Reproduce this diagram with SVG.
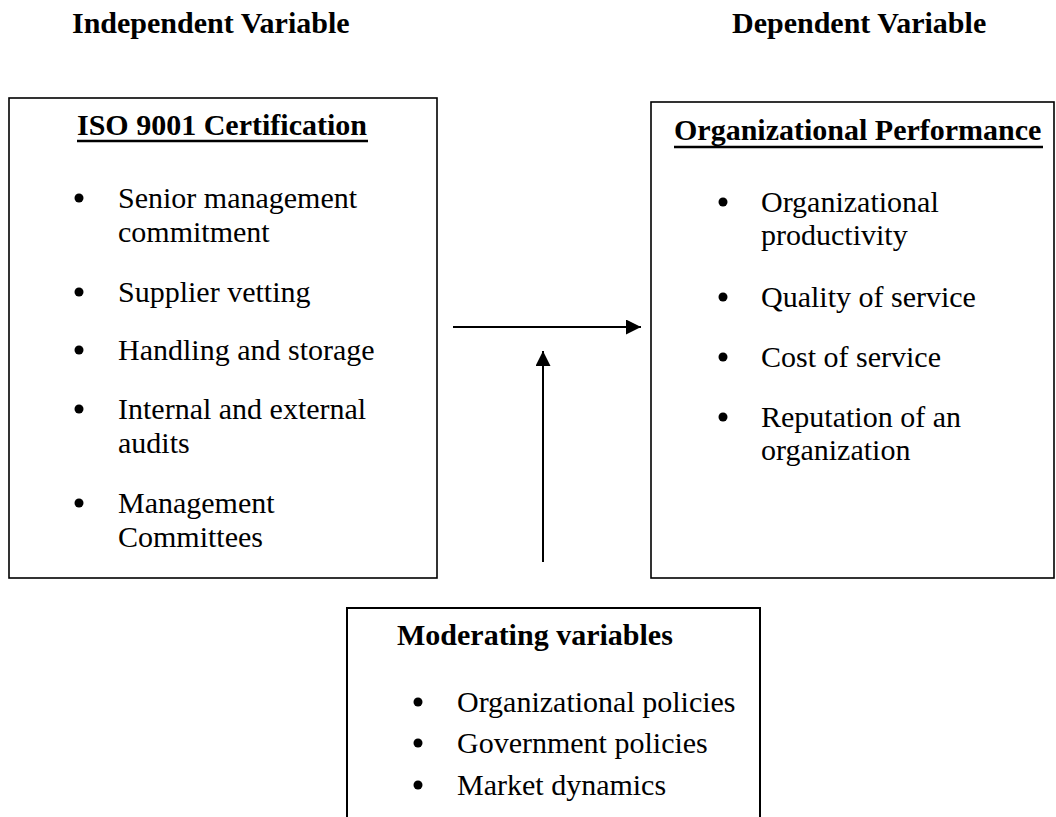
<svg xmlns="http://www.w3.org/2000/svg" width="1056" height="817" viewBox="0 0 1056 817">
  <defs>
    <style>
      .box { fill: #ffffff; stroke: #000000; stroke-width: 1.6; }
      .txt { font-family: "Liberation Serif", "Times New Roman", serif; font-size: 30px; fill: #000000; }
      .bold { font-weight: bold; }
      .dot { fill: #000000; }
      .uline { stroke: #000000; stroke-width: 2.5; }
      .conn { stroke: #000000; stroke-width: 2; fill: none; }
    </style>
    <marker id="arrowhead" markerUnits="userSpaceOnUse" markerWidth="16" markerHeight="16" refX="15" refY="7.5" orient="auto">
      <path d="M0,0 L15,7.5 L0,15 Z" fill="#000000"/>
    </marker>
  </defs>

  <rect width="1056" height="817" fill="#ffffff"/>

  <!-- column headings -->
  <g id="headings">
    <text class="txt bold" x="72" y="33">Independent Variable</text>
    <text class="txt bold" x="732" y="33">Dependent Variable</text>
  </g>

  <!-- independent variable box -->
  <g id="iso9001">
    <rect class="box" x="9" y="98" width="428" height="480"/>
    <text class="txt bold" x="77" y="135">ISO 9001 Certification</text>
    <line class="uline" x1="77" y1="141" x2="368" y2="141"/>
    <circle class="dot" cx="79" cy="198" r="4.5"/>
    <text class="txt" x="118" y="208">Senior management</text>
    <text class="txt" x="118" y="242">commitment</text>
    <circle class="dot" cx="79" cy="292" r="4.5"/>
    <text class="txt" x="118" y="302">Supplier vetting</text>
    <circle class="dot" cx="79" cy="350" r="4.5"/>
    <text class="txt" x="118" y="360">Handling and storage</text>
    <circle class="dot" cx="79" cy="409" r="4.5"/>
    <text class="txt" x="118" y="419">Internal and external</text>
    <text class="txt" x="118" y="453">audits</text>
    <circle class="dot" cx="79" cy="503" r="4.5"/>
    <text class="txt" x="118" y="513">Management</text>
    <text class="txt" x="118" y="547">Committees</text>
  </g>

  <!-- dependent variable box -->
  <g id="performance">
    <rect class="box" x="651" y="102" width="403" height="476"/>
    <text class="txt bold" x="674" y="140">Organizational Performance</text>
    <line class="uline" x1="674" y1="147" x2="1043" y2="147"/>
    <circle class="dot" cx="723" cy="202" r="4.5"/>
    <text class="txt" x="761" y="212">Organizational</text>
    <text class="txt" x="761" y="245">productivity</text>
    <circle class="dot" cx="723" cy="297" r="4.5"/>
    <text class="txt" x="761" y="307">Quality of service</text>
    <circle class="dot" cx="723" cy="357" r="4.5"/>
    <text class="txt" x="761" y="367">Cost of service</text>
    <circle class="dot" cx="723" cy="417" r="4.5"/>
    <text class="txt" x="761" y="427">Reputation of an</text>
    <text class="txt" x="761" y="460">organization</text>
  </g>

  <!-- moderating variables box (runs past the bottom edge) -->
  <g id="moderating">
    <rect class="box" x="347" y="608" width="413" height="230" style="stroke-width:2"/>
    <text class="txt bold" x="397" y="645">Moderating variables</text>
    <circle class="dot" cx="418" cy="702" r="4.5"/>
    <text class="txt" x="457" y="712">Organizational policies</text>
    <circle class="dot" cx="418" cy="743" r="4.5"/>
    <text class="txt" x="457" y="753">Government policies</text>
    <circle class="dot" cx="418" cy="785" r="4.5"/>
    <text class="txt" x="457" y="795">Market dynamics</text>
  </g>

  <!-- connectors -->
  <g id="connectors">
    <line class="conn" x1="453" y1="327" x2="641" y2="327" marker-end="url(#arrowhead)"/>
    <line class="conn" x1="543" y1="562" x2="543" y2="351" marker-end="url(#arrowhead)"/>
  </g>
</svg>
